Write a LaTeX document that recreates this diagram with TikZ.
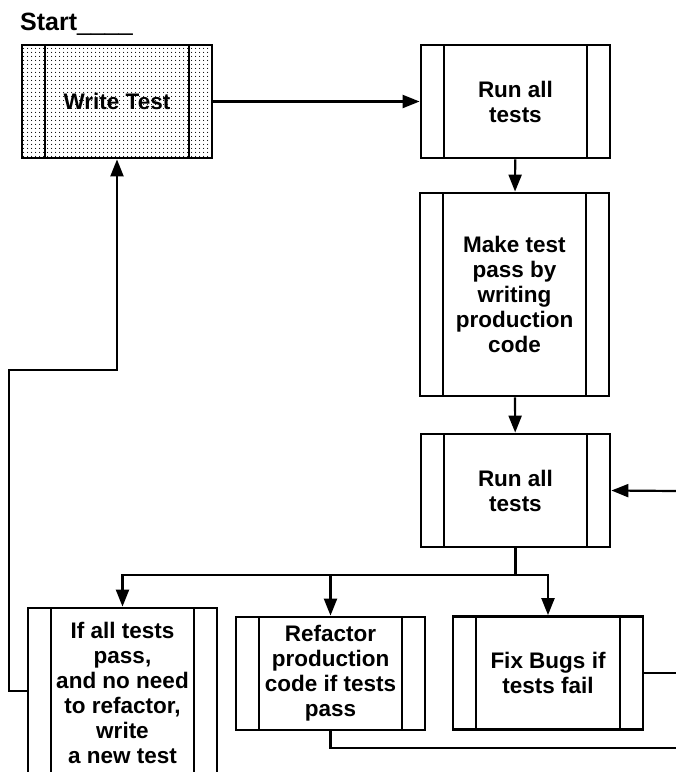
\documentclass[tikz,border=0pt]{standalone}
\usepackage{fontspec}
\setmainfont{Liberation Sans}
\usetikzlibrary{arrows.meta,patterns.meta}
\tikzset{
  proc/.style={draw, line width=2.8pt, minimum width=189pt, minimum height=113pt,
    inner sep=0pt, align=center, font=\bfseries\fontsize{22.5}{25}\selectfont,
    path picture={
      \draw[line width=2.8pt]
        ([xshift=23pt]path picture bounding box.north west) --
        ([xshift=23pt]path picture bounding box.south west)
        ([xshift=-23pt]path picture bounding box.north east) --
        ([xshift=-23pt]path picture bounding box.south east);
    }},
  conn/.style={line width=2.2pt},
  arr/.style={line width=2.2pt, -{Triangle[length=17pt,width=13pt]}},
}
\begin{document}
\begin{tikzpicture}[x=1pt,y=-1pt]
\useasboundingbox (0,0) rectangle (676,772);
\clip (0,0) rectangle (676,772);

\node[anchor=base west, inner sep=0pt, font=\fontsize{25}{30}\selectfont] (start) at (20,30) {\textbf{Start}\_\_\_\_};

\node[proc, minimum width=190pt, pattern={Dots[distance=4pt,radius=0.65pt]}] (wt) at (117,101.5) {Write Test};
\node[proc] (r1) at (515.5,101.5) {Run all\\tests};
\node[proc, minimum height=203pt] (mk) at (514.5,294.5) {Make test\\pass by\\writing\\production\\code};
\node[proc] (r2) at (515.5,490.5) {Run all\\tests};
\node[proc, minimum height=170pt] (ia) at (122.5,693) {If all tests\\pass,\\and no need\\to refactor,\\write\\a new test};
\node[proc] (rf) at (330.5,673.5) {Refactor\\production\\code if tests\\pass};
\node[proc, minimum width=190pt] (fb) at (548,673) {Fix Bugs if\\tests fail};

\coordinate (j) at (515.5,575);
\coordinate (l1) at (9,691);
\coordinate (l2) at (9,370);
\coordinate (l3) at (117,370);
\coordinate (b1) at (330.5,748);
\coordinate (b2) at (676,748);
\coordinate (e1) at (676,673);
\coordinate (e2) at (676,491);

\draw[arr] (wt) -- (r1);
\draw[arr] (r1) -- (mk);
\draw[arr] (mk) -- (r2);
\draw[conn] (r2.south) -- (j);
\draw[arr] (j) -| (ia.north);
\draw[arr] (j) -| (rf.north);
\draw[arr] (j) -| (fb.north);
\draw[arr] (ia.west |- l1) -- (l1) -- (l2) -- (l3) -- (wt.south);
\draw[conn] (rf.south) -- (b1) -- (b2);
\draw[conn] (fb.east) -- (e1);
\draw[arr] (e2) -- (r2.east);
\end{tikzpicture}
\end{document}
